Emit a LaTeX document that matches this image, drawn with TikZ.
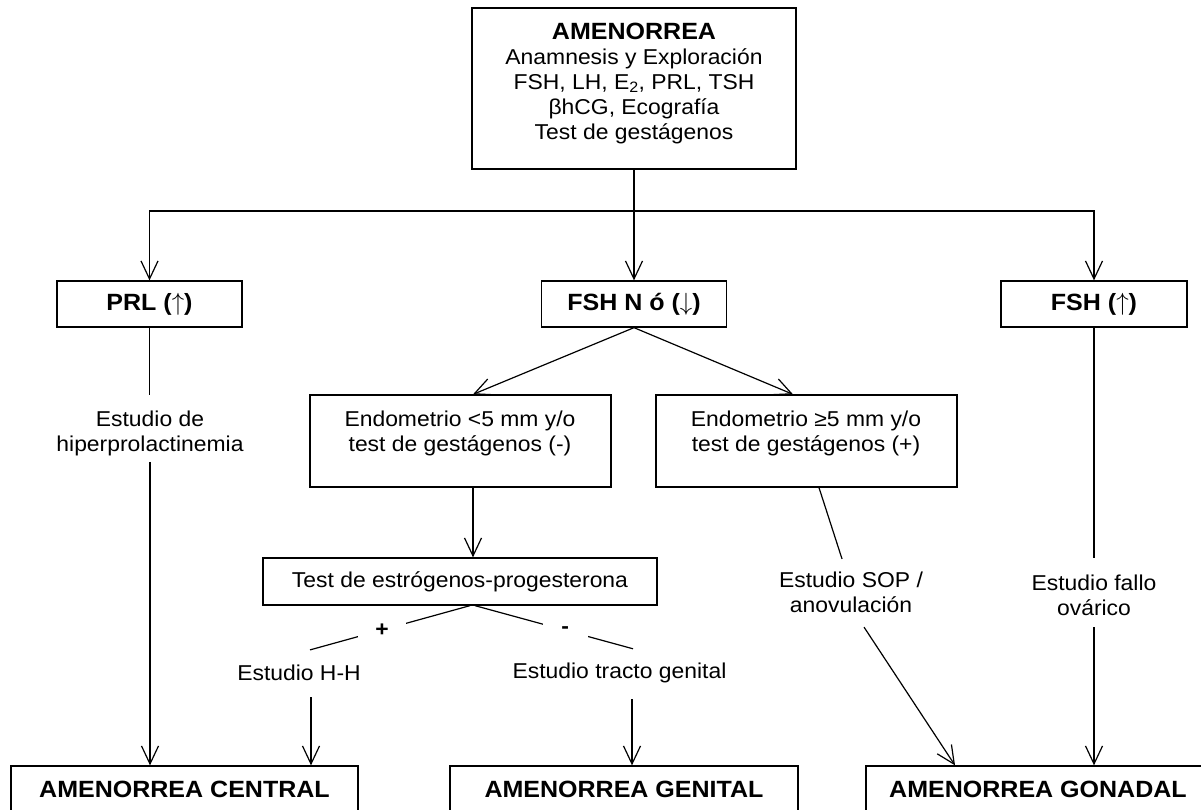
\documentclass[tikz,border=0pt]{standalone}
\usepackage{fontspec}
\setmainfont{Liberation Sans}[FakeStretch=1.065]
\usetikzlibrary{arrows.meta}
\begin{document}
\begin{tikzpicture}[x=1pt,y=-1pt,
  every node/.style={font=\fontsize{21.5}{25}\selectfont},
  box/.style={draw, line width=1.3pt, inner sep=0pt},
  bt/.style={font=\fontsize{23.5}{25}\selectfont\bfseries},
  ln/.style={line width=1.2pt},
  arr/.style={ln, -{Straight Barb[length=18pt,width=17pt,line width=1.2pt]}},
  lbl/.style={align=center, inner sep=0pt},
  sign/.style={fill=white, inner sep=0pt, minimum height=34pt, font=\fontsize{21.5}{25}\selectfont\bfseries}]
\useasboundingbox (0,0) rectangle (1201,810);

% top box
\node[box, minimum width=324pt, minimum height=161pt] (top) at (634,88.5) {};
\node[lbl, anchor=north] (toptxt) at (634,23)
  {{\fontsize{23.5}{25}\selectfont\bfseries AMENORREA}\\
   Anamnesis y Exploración\\
   FSH, LH, E\textsubscript{2}, PRL, TSH\\
   βhCG, Ecografía\\
   Test de gestágenos};

% second row
\node[box, bt, minimum width=185pt, minimum height=46pt] (prl) at (149.5,304) {PRL ($\uparrow$)};
\node[box, bt, minimum width=185pt, minimum height=46pt] (fshn) at (634,304) {FSH N ó ($\downarrow$)};
\node[box, bt, minimum width=186pt, minimum height=46pt] (fshu) at (1094,304) {FSH ($\uparrow$)};

\coordinate (hb) at (634,211);
\draw[ln] (top.south) -- (hb);
\draw[arr] (hb) -| (prl.north);
\draw[arr] (hb) -| (fshu.north);
\draw[arr] (hb) -- (fshn.north);

% endometrio boxes
\node[box, minimum width=301pt, minimum height=92pt] (endo1) at (460.5,441) {};
\node[lbl] (endo1t) at (460,433.5) {Endometrio <5 mm y/o\\test de gestágenos (-)};
\node[box, minimum width=301pt, minimum height=92pt] (endo2) at (806.5,441) {};
\node[lbl] (endo2t) at (806,433.5) {Endometrio ≥5 mm y/o\\test de gestágenos (+)};
\draw[arr] (fshn.south) -- ([xshift=12.5pt]endo1.north);
\draw[arr] (fshn.south) -- ([xshift=-13.5pt]endo2.north);

% test de estrogenos
\node[box, minimum width=394pt, minimum height=47pt] (test) at (460,581.5) {Test de estrógenos-progesterona};
\coordinate (e1x) at ([xshift=12.5pt]endo1.south);
\draw[arr] (e1x) -- (e1x |- test.north);

% bottom boxes
\node[box, bt, minimum width=347pt, minimum height=46pt] (central) at (184.5,789) {AMENORREA CENTRAL};
\node[box, bt, minimum width=348pt, minimum height=46pt] (genital) at (624,789) {AMENORREA GENITAL};
\node[box, bt, minimum width=344pt, minimum height=46pt] (gonadal) at (1038,789) {AMENORREA GONADAL};

% Estudio H-H / tracto genital
\node[lbl] (hh) at (299,673) {Estudio H-H};
\node[lbl] (tracto) at (619.5,673) {Estudio tracto genital};
\coordinate (tL) at ([xshift=10pt]test.south);
\coordinate (tR) at ([xshift=15pt]test.south);
\coordinate (hhEnd) at ([xshift=11pt,yshift=15pt]hh.north);
\coordinate (trEnd) at ([xshift=13.5pt,yshift=14pt]tracto.north);
\draw[ln] (tL) -- node[sign, pos=0.55, minimum width=48pt] (plus) {+} (hhEnd);
\draw[ln] (tR) -- node[sign, pos=0.57, minimum width=45pt] (minus) {-} (trEnd);
\coordinate (hhx) at ([xshift=12pt]hh.south);
\draw[arr, shorten <=16pt] (hhx) -- (hhx |- central.north);
\coordinate (trx) at ([xshift=12.5pt]tracto.south);
\draw[arr, shorten <=16pt] (trx) -- (trx |- genital.north);

% PRL chain
\node[lbl] (hiper) at (150,433.7) {Estudio de\\hiperprolactinemia};
\draw[ln, shorten >=16pt] (prl.south) -- (prl.south |- hiper.north);
\draw[arr, shorten <=5.5pt] (hiper.south) -- (hiper.south |- central.north);

% SOP chain
\node[lbl] (sop) at (851,592.5) {Estudio SOP /\\anovulación};
\draw[ln] ([xshift=12.5pt]endo2.south) -- ([xshift=-9pt,yshift=13pt]sop.north);
\draw[arr] ([xshift=13pt,yshift=-14pt]sop.south) -- ([xshift=-83pt]gonadal.north);

% fallo ovarico chain
\node[lbl] (fallo) at (1094,595.6) {Estudio fallo\\ovárico};
\draw[ln, shorten >=17pt] (fshu.south) -- (fshu.south |- fallo.north);
\draw[arr, shorten <=11pt] (fallo.south) -- (fallo.south |- gonadal.north);
\end{tikzpicture}
\end{document}
